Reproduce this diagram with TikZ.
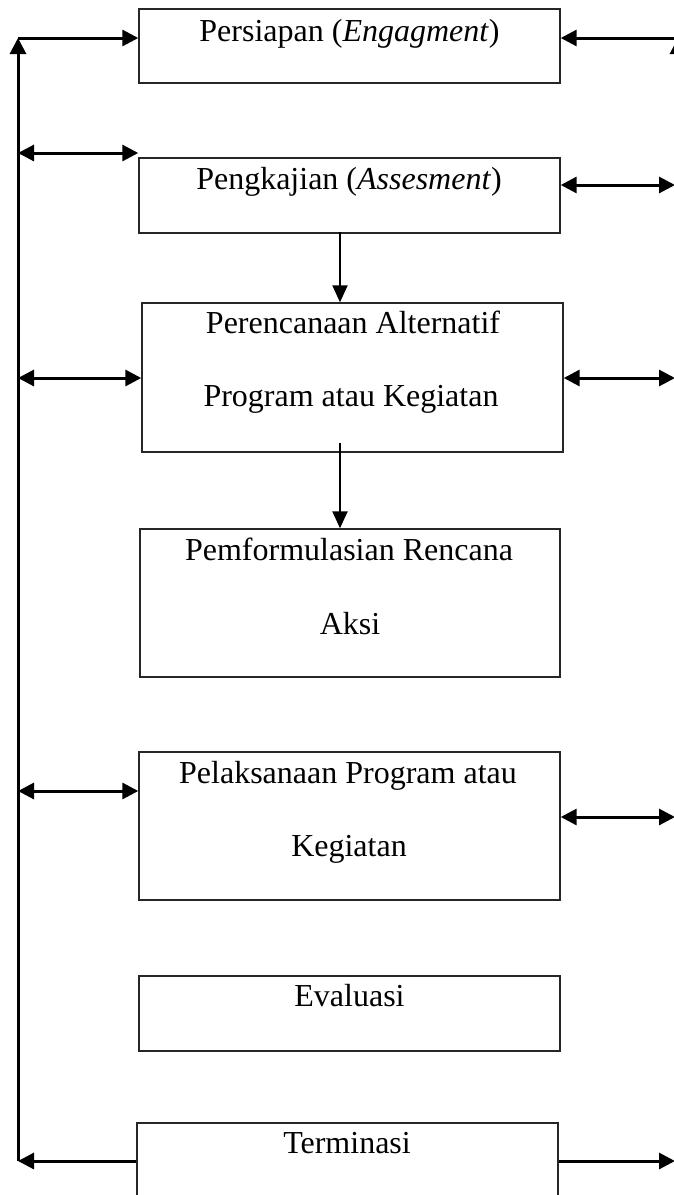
\documentclass[tikz,border=0pt]{standalone}
\usepackage{fontspec}
\setmainfont{Liberation Serif}
\usetikzlibrary{arrows.meta,calc}
\begin{document}
\begin{tikzpicture}[x=1pt,y=-1pt,
  box/.style={draw=black!85, line width=1.4pt, rectangle, inner sep=0pt, minimum width=421pt},
  txt/.style={font=\fontsize{32}{38}\selectfont, inner sep=0pt, anchor=base},
  conn/.style={line width=3pt, -{Triangle[length=16pt,width=16pt]}},
  dconn/.style={line width=3pt, {Triangle[length=16pt,width=16pt]}-{Triangle[length=16pt,width=16pt]}},
  downarr/.style={line width=2.3pt, -{Triangle[length=17pt,width=15pt]}}]
\useasboundingbox (0,0) rectangle (674,1195);
\clip (0,0) rectangle (674,1195);
\fill[white] (0,0) rectangle (674,1195);
% boxes
\node[box, minimum height=74pt] (b1) at (349.5,46) {};
\node[box, minimum height=75pt] (b2) at (349.5,195.5) {};
\node[box, minimum height=149pt] (b3) at (352.5,377.5) {};
\node[box, minimum height=148pt, minimum width=420pt] (b4) at (350,603) {};
\node[box, minimum height=148pt] (b5) at (349.5,826) {};
\node[box, minimum height=75pt] (b6) at (349.5,1013.5) {};
\node[box, minimum height=146pt] (b7) at (347.5,1196) {};
% texts
\node[txt] (t1) at (349.5,41) {Persiapan (\textit{Engagment})};
\node[txt] (t2) at (349,189) {Pengkajian (\textit{Assesment})};
\node[txt] (t3a) at (353,333) {Perencanaan Alternatif};
\node[txt] (t3b) at (351,406) {Program atau Kegiatan};
\node[txt] (t4a) at (349,560) {Pemformulasian Rencana};
\node[txt] (t4b) at (350,634) {Aksi};
\node[txt] (t5a) at (348,783) {Pelaksanaan Program atau};
\node[txt] (t5b) at (349,856) {Kegiatan};
\node[txt] (t6) at (349.5,1006) {Evaluasi};
\node[txt] (t7) at (347,1153) {Terminasi};
% coordinates
\coordinate (LB) at (18,1161);
\coordinate (L1) at (18,38);
\coordinate (L2) at (18,153);
\coordinate (L3) at (18,378);
\coordinate (L5) at (18,791);
\coordinate (RB) at (678,1161);
\coordinate (RT) at (678,38);
\coordinate (R2) at (675,185);
\coordinate (R3) at (675,378);
\coordinate (R5) at (675,817);
\coordinate (R7) at (675,1161);
\coordinate (dx) at (340,0);
% left side
\draw[conn] (LB) -- (L1);
\draw[conn] (L1) -- (L1 -| b1.west);
\draw[dconn] (L2) -- (L2 -| b2.west);
\draw[dconn] (L3) -- (L3 -| b3.west);
\draw[dconn] (L5) -- (L5 -| b5.west);
\draw[conn] (b7.west |- LB) -- (LB);
% right side
\draw[conn] (RB) -- (RT);
\draw[conn] (RT) -- (RT -| b1.east);
\draw[dconn] (R2 -| b2.east) -- (R2);
\draw[dconn] (R3 -| b3.east) -- (R3);
\draw[dconn] (R5 -| b5.east) -- (R5);
\draw[conn] (b7.east |- R7) -- (R7);
% down arrows
\draw[downarr] ($(b2.south -| dx)+(0,-2)$) -- (b3.north -| dx);
\draw[downarr] ($(b3.south -| dx)+(0,-10)$) -- (b4.north -| dx);
\end{tikzpicture}
\end{document}
